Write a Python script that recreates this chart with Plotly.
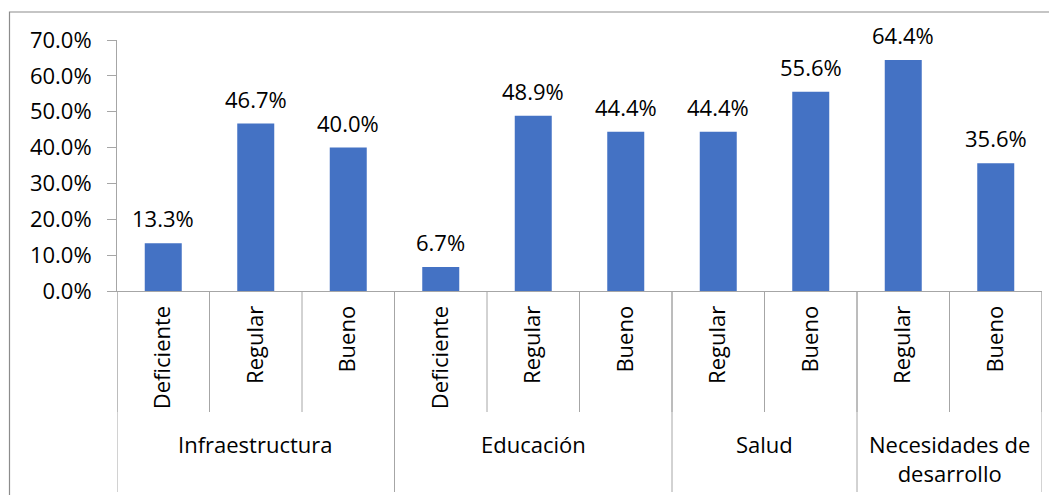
import plotly.graph_objects as go

# ---- data ----
group_names = ["Infraestructura", "Educación", "Salud", "Necesidades de<br>desarrollo"]
group_sizes = [3, 3, 2, 2]
sub_labels = ["Deficiente", "Regular", "Bueno",
              "Deficiente", "Regular", "Bueno",
              "Regular", "Bueno",
              "Regular", "Bueno"]
values = [0.133, 0.467, 0.400, 0.067, 0.489, 0.444, 0.444, 0.556, 0.644, 0.356]
y_tick_vals = [0.0, 0.1, 0.2, 0.3, 0.4, 0.5, 0.6, 0.7]

# ---- layout geometry (pixels in the page; page body has an 8px offset) ----
OFF = 8
W, H = 1057, 495
L, R, T, B = 117, 15, 40, 204
plot_h = H - T - B
plot_w = W - L - R


def py(p):
    """page pixel y (from top) -> paper y"""
    return (H - B - p) / plot_h


def px(p):
    return (p - L) / plot_w


FONT = "Open Sans"
AXIS_COLOR = "#A6A6A6"
BAR_COLOR = "#4472C4"

x_pos = list(range(len(values)))

fig = go.Figure()
fig.add_trace(go.Bar(
    x=x_pos, y=values, width=0.4,
    marker=dict(color=BAR_COLOR, line=dict(width=0)),
    hoverinfo="skip",
))

# data labels
for xi, v in zip(x_pos, values):
    fig.add_annotation(
        x=xi, y=v, xref="x", yref="y",
        text=f"{v*100:.1f}%", showarrow=False,
        yanchor="bottom", yshift=8,
        font=dict(family=FONT, size=22, color="#000000"),
    )

shapes = []
n = len(values)
for i in range(n + 1):
    shapes.append(dict(type="line", xref="x", yref="paper",
                       x0=i - 0.5, x1=i - 0.5, y0=0, y1=py(412),
                       line=dict(color=AXIS_COLOR, width=1)))
start = 0
bounds = [start]
for gname, gsize in zip(group_names, group_sizes):
    center = start + (gsize - 1) / 2
    fig.add_annotation(
        x=center, y=py(427), xref="x", yref="paper",
        text=gname, showarrow=False, yanchor="top",
        font=dict(family=FONT, size=22, color="#000000"),
    )
    start += gsize
    bounds.append(start)
for b in bounds:
    shapes.append(dict(type="line", xref="x", yref="paper",
                       x0=b - 0.5, x1=b - 0.5, y0=0, y1=py(492),
                       line=dict(color=AXIS_COLOR, width=1)))

# chart-area frame
shapes.append(dict(type="rect", xref="paper", yref="paper",
                   x0=px(9.5), x1=px(1080), y0=py(520), y1=py(12),
                   line=dict(color="#8C8C8C", width=1.2),
                   fillcolor="rgba(0,0,0,0)", layer="below"))

fig.update_layout(
    width=W - OFF, height=H - OFF,
    margin=dict(l=L - OFF, r=R, t=T - OFF, b=B, pad=0),
    paper_bgcolor="white", plot_bgcolor="white",
    showlegend=False,
    shapes=shapes,
    font=dict(family=FONT, color="#000000"),
    xaxis=dict(
        range=[-0.5, n - 0.5],
        tickvals=x_pos, ticktext=sub_labels,
        tickangle=-90, ticks="",
        showline=True, linecolor=AXIS_COLOR, linewidth=1,
        showgrid=False, zeroline=False,
        tickfont=dict(family=FONT, size=22, color="#000000"),
        ticklabelstandoff=5,
        fixedrange=True,
    ),
    yaxis=dict(
        range=[0, 0.7],
        tickvals=y_tick_vals, tickformat=".1%",
        ticks="outside", ticklen=9, tickcolor=AXIS_COLOR, tickwidth=1,
        showline=True, linecolor=AXIS_COLOR, linewidth=1,
        showgrid=False, zeroline=False,
        tickfont=dict(family=FONT, size=22, color="#000000"),
        ticklabelstandoff=11,
        fixedrange=True,
    ),
)

fig.write_html("out.html")
